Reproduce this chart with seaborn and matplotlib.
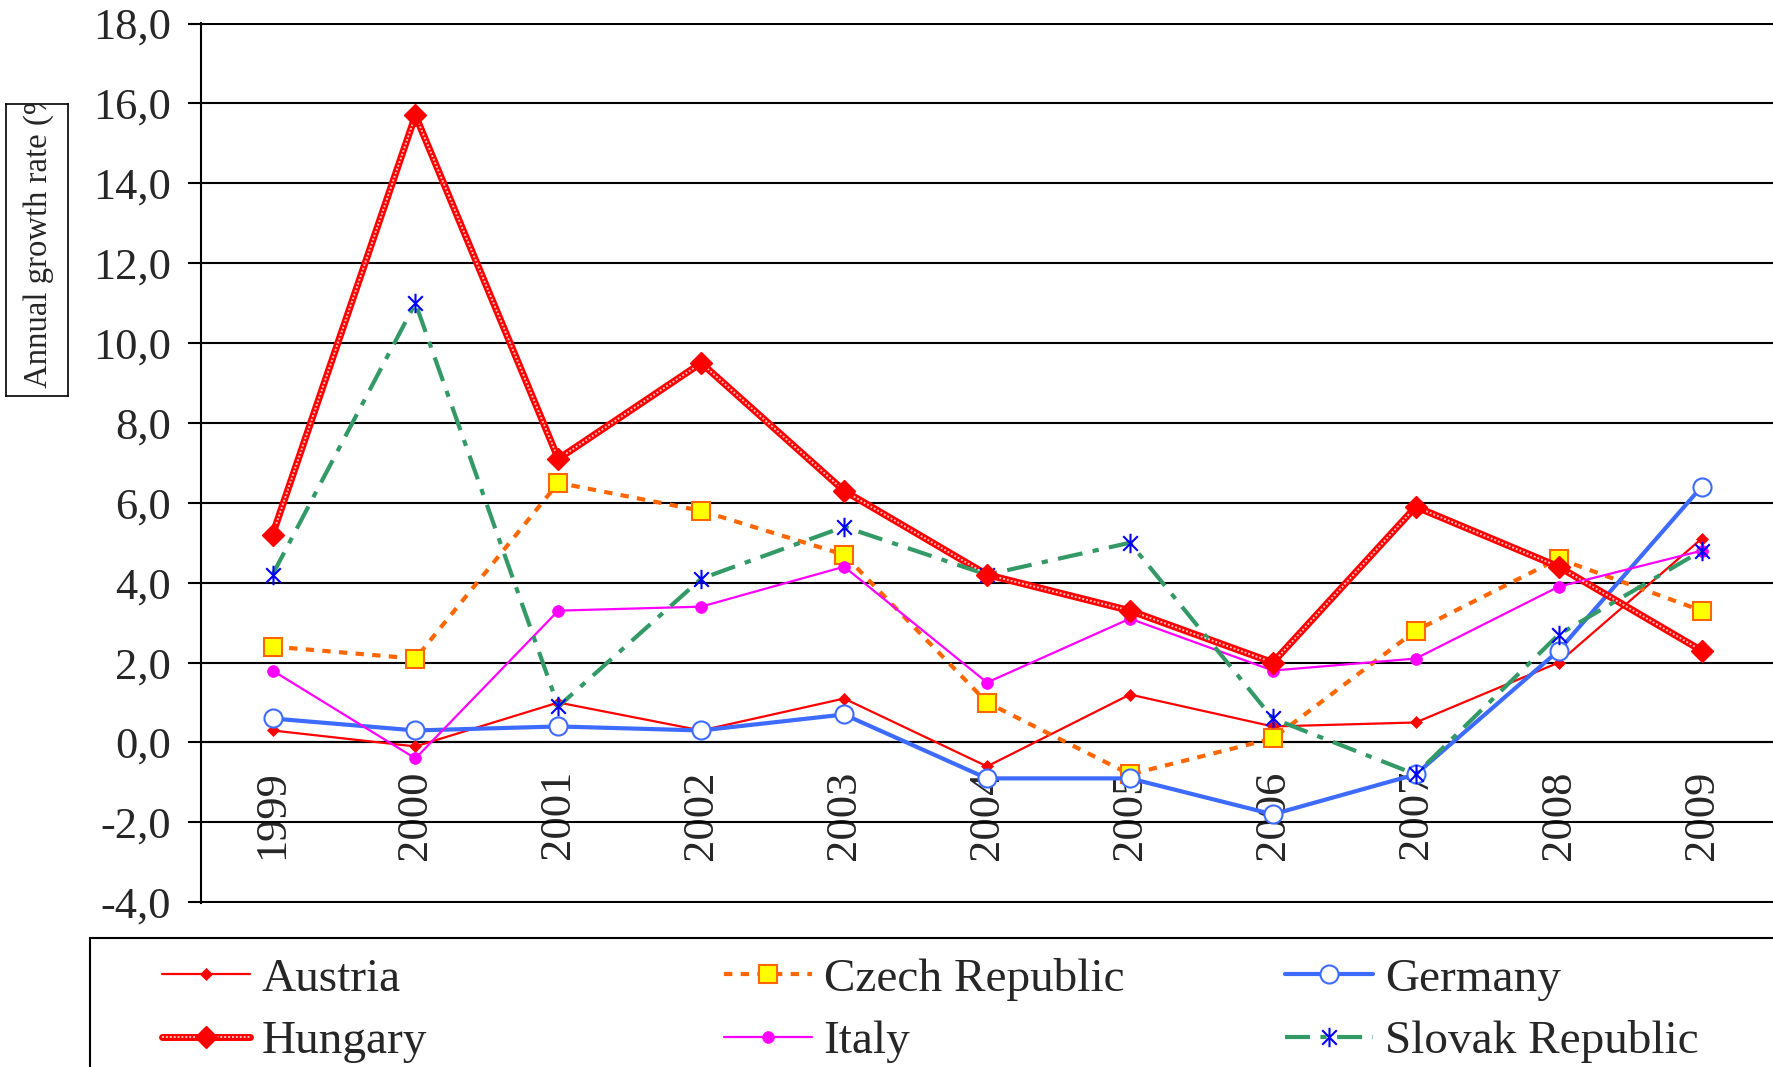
"""
Annual growth rate by country, 1999-2009 (line chart, Excel look)
"""

import numpy as np
import pandas as pd
import matplotlib
matplotlib.use("Agg")
import matplotlib.pyplot as plt
import seaborn as sns
from matplotlib.lines import Line2D
from matplotlib.path import Path
from matplotlib.patches import Rectangle
from matplotlib.ticker import FixedLocator, FuncFormatter, NullFormatter
from matplotlib.legend_handler import HandlerTuple

# Data
years = [1999, 2000, 2001, 2002, 2003, 2004, 2005, 2006, 2007, 2008, 2009]
austria = [0.3, -0.1, 1.0, 0.3, 1.1, -0.6, 1.2, 0.4, 0.5, 2.0, 5.1]
czech = [2.4, 2.1, 6.5, 5.8, 4.7, 1.0, -0.8, 0.1, 2.8, 4.6, 3.3]
germany = [0.6, 0.3, 0.4, 0.3, 0.7, -0.9, -0.9, -1.8, -0.8, 2.3, 6.4]
hungary = [5.2, 15.7, 7.1, 9.5, 6.3, 4.2, 3.3, 2.0, 5.9, 4.4, 2.3]
italy = [1.8, -0.4, 3.3, 3.4, 4.4, 1.5, 3.1, 1.8, 2.1, 3.9, 4.8]
slovak = [4.2, 11.0, 0.9, 4.1, 5.4, 4.2, 5.0, 0.6, -0.8, 2.7, 4.8]

countries = ['Austria', 'Czech Republic', 'Germany', 'Hungary', 'Italy', 'Slovak Republic']
series = [austria, czech, germany, hungary, italy, slovak]

y_ticks = [-4, -2, 0, 2, 4, 6, 8, 10, 12, 14, 16, 18]

df = pd.DataFrame({
    'year': np.tile(years, len(countries)),
    'country': np.repeat(countries, len(years)),
    'growth': np.concatenate(series),
})

# asterisk marker: vertical bar + X
star = Path([(0, -1), (0, 1), (-0.75, -0.75), (0.75, 0.75), (-0.75, 0.75), (0.75, -0.75)],
            [Path.MOVETO, Path.LINETO] * 3)

styles = {
    'Austria': dict(color='#FF0000', linewidth=1.6, linestyle='-', marker='D', markersize=6,
                    markerfacecolor='#FF0000', markeredgecolor='#FF0000', markeredgewidth=0.5),
    'Czech Republic': dict(color='#FF6600', linewidth=3, linestyle=(0, (2, 2)), marker='s', markersize=13,
                           markerfacecolor='#FFFF00', markeredgecolor='#FF6600', markeredgewidth=1.5),
    'Germany': dict(color='#3D6BFF', linewidth=3, linestyle='-', marker='o', markersize=13,
                    markerfacecolor='white', markeredgecolor='#3D6BFF', markeredgewidth=1.5),
    'Hungary': dict(color='#FF0000', linewidth=5, linestyle='-'),
    'Italy': dict(color='#FF00FF', linewidth=1.6, linestyle='-', marker='o', markersize=8.5,
                  markerfacecolor='#FF00FF', markeredgecolor='#FF00FF', markeredgewidth=0.5),
    'Slovak Republic': dict(color='#339966', linewidth=3, linestyle=(0, (6, 2.5, 1.5, 2.5)), marker=star,
                            markersize=14, markerfacecolor='none', markeredgecolor='#0000FF',
                            markeredgewidth=1.5),
}
hun_over = dict(color='white', linewidth=1.4, linestyle=(0, (1, 1)), alpha=0.75)
hun_marks = dict(linestyle='none', marker='D', markersize=11,
                 markerfacecolor='#FF0000', markeredgecolor='#FF0000')

sns.set_style("white")
plt.rcParams['font.family'] = ['Liberation Serif', 'DejaVu Serif']

fig = plt.figure(figsize=(17.73, 10.67), dpi=100)
ax = fig.add_axes([0.1134, 0.1537, 0.8866, 0.825])

for name in countries:
    sub = df[df['country'] == name]
    sns.lineplot(data=sub, x='year', y='growth', ax=ax, zorder=3, **styles[name])
    if name == 'Hungary':
        # textured look of the thick line + diamonds on top
        ax.plot(sub['year'], sub['growth'], zorder=3.1, **hun_over)
        ax.plot(sub['year'], sub['growth'], zorder=3.2, **hun_marks)

# legend proxies with the same styles
handles = {}
for name in countries:
    if name == 'Hungary':
        handles[name] = (Line2D([], [], **styles[name]), Line2D([], [], **hun_over),
                         Line2D([], [], **hun_marks))
    else:
        handles[name] = Line2D([], [], **styles[name])

# axes styling
ax.set_xlim(1998.5, 2009.5)
ax.set_ylim(-4.02, 18.02)
ax.set_xlabel('')
ax.set_ylabel('')
ax.yaxis.set_major_locator(FixedLocator(y_ticks))
ax.yaxis.set_major_formatter(FuncFormatter(lambda v, p: f'{v:.1f}'.replace('.', ',')))
ax.yaxis.grid(True, color='black', linewidth=1.5)
ax.xaxis.grid(False)

ax.xaxis.set_major_locator(FixedLocator(years))
ax.xaxis.set_major_formatter(FuncFormatter(lambda v, p: f'{int(round(v))}'))
ax.xaxis.set_minor_locator(FixedLocator([y + 0.5 for y in years[:-1]]))
ax.xaxis.set_minor_formatter(NullFormatter())

ax.spines['bottom'].set_position(('data', 0))
for s in ['top', 'right']:
    ax.spines[s].set_visible(False)
for s in ['left', 'bottom']:
    ax.spines[s].set_color('black')
    ax.spines[s].set_linewidth(1.5)

ax.tick_params(axis='x', which='major', length=0, pad=20, labelsize=32, labelrotation=90)
ax.tick_params(axis='x', which='minor', direction='out', length=10.8, width=1.5, color='black')
ax.tick_params(axis='y', which='major', direction='out', length=9.5, width=1.5, color='black',
               pad=12, labelsize=32, left=True)

# boxed y label, clipped at its top like the original
lab_ax = fig.add_axes([0.0034, 0.6289, 0.035, 0.2737])
lab_ax.set_xticks([])
lab_ax.set_yticks([])
for s in lab_ax.spines.values():
    s.set_color('black')
    s.set_linewidth(1.2)
lab_ax.text(0.52, 0.027, 'Annual growth rate (%)', rotation=90, ha='center', va='bottom',
            fontsize=23.6, transform=lab_ax.transAxes, clip_on=True)

# legend frame running off the bottom/right edge
fig.add_artist(Rectangle((0.0508, -0.05), 1.0, 0.1709, transform=fig.transFigure,
                         facecolor='white', edgecolor='black', linewidth=1.5, zorder=0))

col_x = [0.0914, 0.4083, 0.7248]
for i, cx in enumerate(col_x):
    names = [countries[i], countries[i + 3]]
    fig.legend([handles[n] for n in names], names, loc='upper left',
               bbox_to_anchor=(cx, 0.1026), frameon=False, fontsize=34,
               borderpad=0, borderaxespad=0, handlelength=1.86, handletextpad=0.25,
               labelspacing=0.42, handler_map={tuple: HandlerTuple(ndivide=1)})

fig.savefig('out.png', dpi=100)
plt.close(fig)
